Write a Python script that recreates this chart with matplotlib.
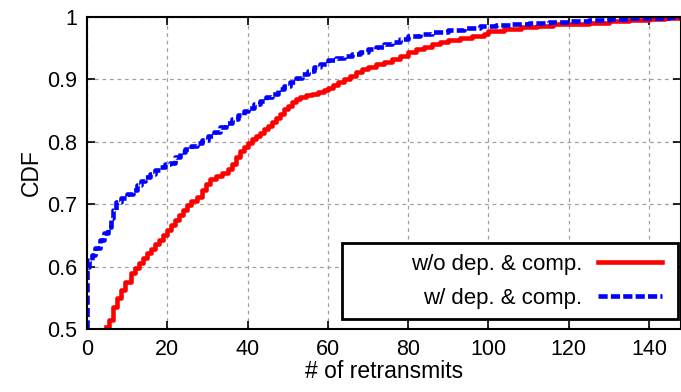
import matplotlib
matplotlib.use("Agg")
import matplotlib.pyplot as plt
from matplotlib.patches import Rectangle

# CDF of retransmits (step curves)
wo_x = [4.8, 5.5, 6.5, 7.5, 8.5, 9.5, 11, 12, 13, 14, 15, 16, 17, 18, 19, 20, 21, 22, 23,
        24, 25, 26, 27.3, 28.5, 29.5, 30.5, 32, 33.5, 35, 36, 37, 38, 39, 40, 41, 42, 43,
        44, 45, 46, 47, 48, 49, 50, 51, 52, 53, 54.5, 56, 57.5, 59, 60, 61.3, 62.5, 64,
        65.5, 67, 68.5, 70, 72, 74, 76, 78, 80, 82, 84, 86, 88, 90, 93, 96, 99, 100, 104,
        108, 112, 116, 120, 125, 130, 135, 140, 144, 148]
wo_y = [0.504, 0.515, 0.536, 0.55, 0.563, 0.575, 0.589, 0.598, 0.606, 0.614, 0.621, 0.628,
        0.636, 0.643, 0.651, 0.659, 0.667, 0.675, 0.683, 0.691, 0.699, 0.705, 0.712, 0.722,
        0.732, 0.74, 0.745, 0.75, 0.757, 0.765, 0.775, 0.785, 0.792, 0.798, 0.804, 0.809,
        0.814, 0.82, 0.826, 0.832, 0.838, 0.845, 0.852, 0.858, 0.864, 0.868, 0.872, 0.875,
        0.877, 0.879, 0.883, 0.886, 0.891, 0.896, 0.901, 0.906, 0.912, 0.916, 0.92, 0.924,
        0.928, 0.933, 0.938, 0.944, 0.948, 0.952, 0.956, 0.96, 0.963, 0.967, 0.97, 0.973,
        0.978, 0.981, 0.984, 0.986, 0.988, 0.989, 0.991, 0.993, 0.995, 0.997, 0.999, 1.0]

w_x = [0, 0, 0.5, 1.1, 2, 3.2, 4.2, 5.2, 6, 6.5, 7.3, 8.5, 10, 11.5, 12.5, 13.5, 14.5, 15.6,
       17, 18.1, 19.5, 20.6, 22, 23.1, 24.5, 26, 27.3, 28.5, 30, 31.5, 33, 34.5, 36, 37.5,
       39, 40, 41.5, 43, 44.5, 46, 47.5, 49, 50.5, 52, 53.5, 55, 56.5, 58, 60, 62, 64, 66,
       68, 70, 72, 74, 76, 78, 80, 83, 86, 90, 94, 98, 102, 106, 110, 115, 120, 125, 130,
       135, 140, 145, 148]
w_y = [0.5, 0.6, 0.61, 0.619, 0.63, 0.643, 0.654, 0.664, 0.678, 0.691, 0.704, 0.71, 0.717,
       0.723, 0.73, 0.737, 0.743, 0.749, 0.755, 0.76, 0.764, 0.766, 0.775, 0.784, 0.789,
       0.794, 0.798, 0.803, 0.81, 0.816, 0.823, 0.83, 0.837, 0.843, 0.849, 0.854, 0.86,
       0.866, 0.871, 0.877, 0.884, 0.89, 0.896, 0.903, 0.909, 0.914, 0.92, 0.925, 0.931,
       0.935, 0.938, 0.941, 0.944, 0.948, 0.952, 0.956, 0.96, 0.965, 0.969, 0.973, 0.976,
       0.979, 0.982, 0.985, 0.987, 0.989, 0.99, 0.992, 0.993, 0.995, 0.996, 0.998, 0.999,
       1.0, 1.0]

x_ticks = [0, 20, 40, 60, 80, 100, 120, 140]
y_ticks = [0.5, 0.6, 0.7, 0.8, 0.9, 1.0]
y_labels = ["0.5", "0.6", "0.7", "0.8", "0.9", "1"]

plt.rcParams['font.family'] = ['Liberation Sans', 'DejaVu Sans']
plt.rcParams['font.size'] = 15.5

fig = plt.figure(figsize=(6.81, 3.92), dpi=100)
ax = fig.add_axes([0.128, 0.1607, 0.872, 0.796])

ax.plot(wo_x, wo_y, drawstyle='steps-post', color='#ff0000', lw=3.3,
        label='w/o dep. & comp.')
ax.plot(w_x, w_y, drawstyle='steps-post', color='#0000ff', lw=3.3,
        dashes=(2.0, 0.7), label='w/ dep. & comp.')

ax.set_xlim(0, 148)
ax.set_ylim(0.5, 1.0)
ax.set_xticks(x_ticks)
ax.set_yticks(y_ticks)
ax.set_yticklabels(y_labels)
ax.grid(True, color='#a0a0a0', linestyle=(0, (3, 3)), lw=0.9)
ax.tick_params(direction='in', length=6, width=1.2, top=True, right=True, pad=7)
for s in ax.spines.values():
    s.set_linewidth(1.5)

ax.set_xlabel('# of retransmits', fontsize=16.5, labelpad=0)
ax.set_ylabel('CDF', fontsize=16.5, labelpad=3)

# gnuplot-style key: wide box with right-aligned entries
ax.add_patch(Rectangle((0.429, 0.032), 0.566, 0.244, transform=ax.transAxes,
                       facecolor='white', edgecolor='black', lw=2.0, zorder=5))
leg = ax.legend(loc='center right', bbox_to_anchor=(0.968, 0.152), borderaxespad=0,
                markerfirst=False, frameon=False, fontsize=16, handlelength=2.9,
                borderpad=0, labelspacing=0.6, handletextpad=0.7)
leg.set_zorder(6)
for t in leg.get_texts():
    t.set_ha('right')

fig.savefig('out.png', dpi=100)
